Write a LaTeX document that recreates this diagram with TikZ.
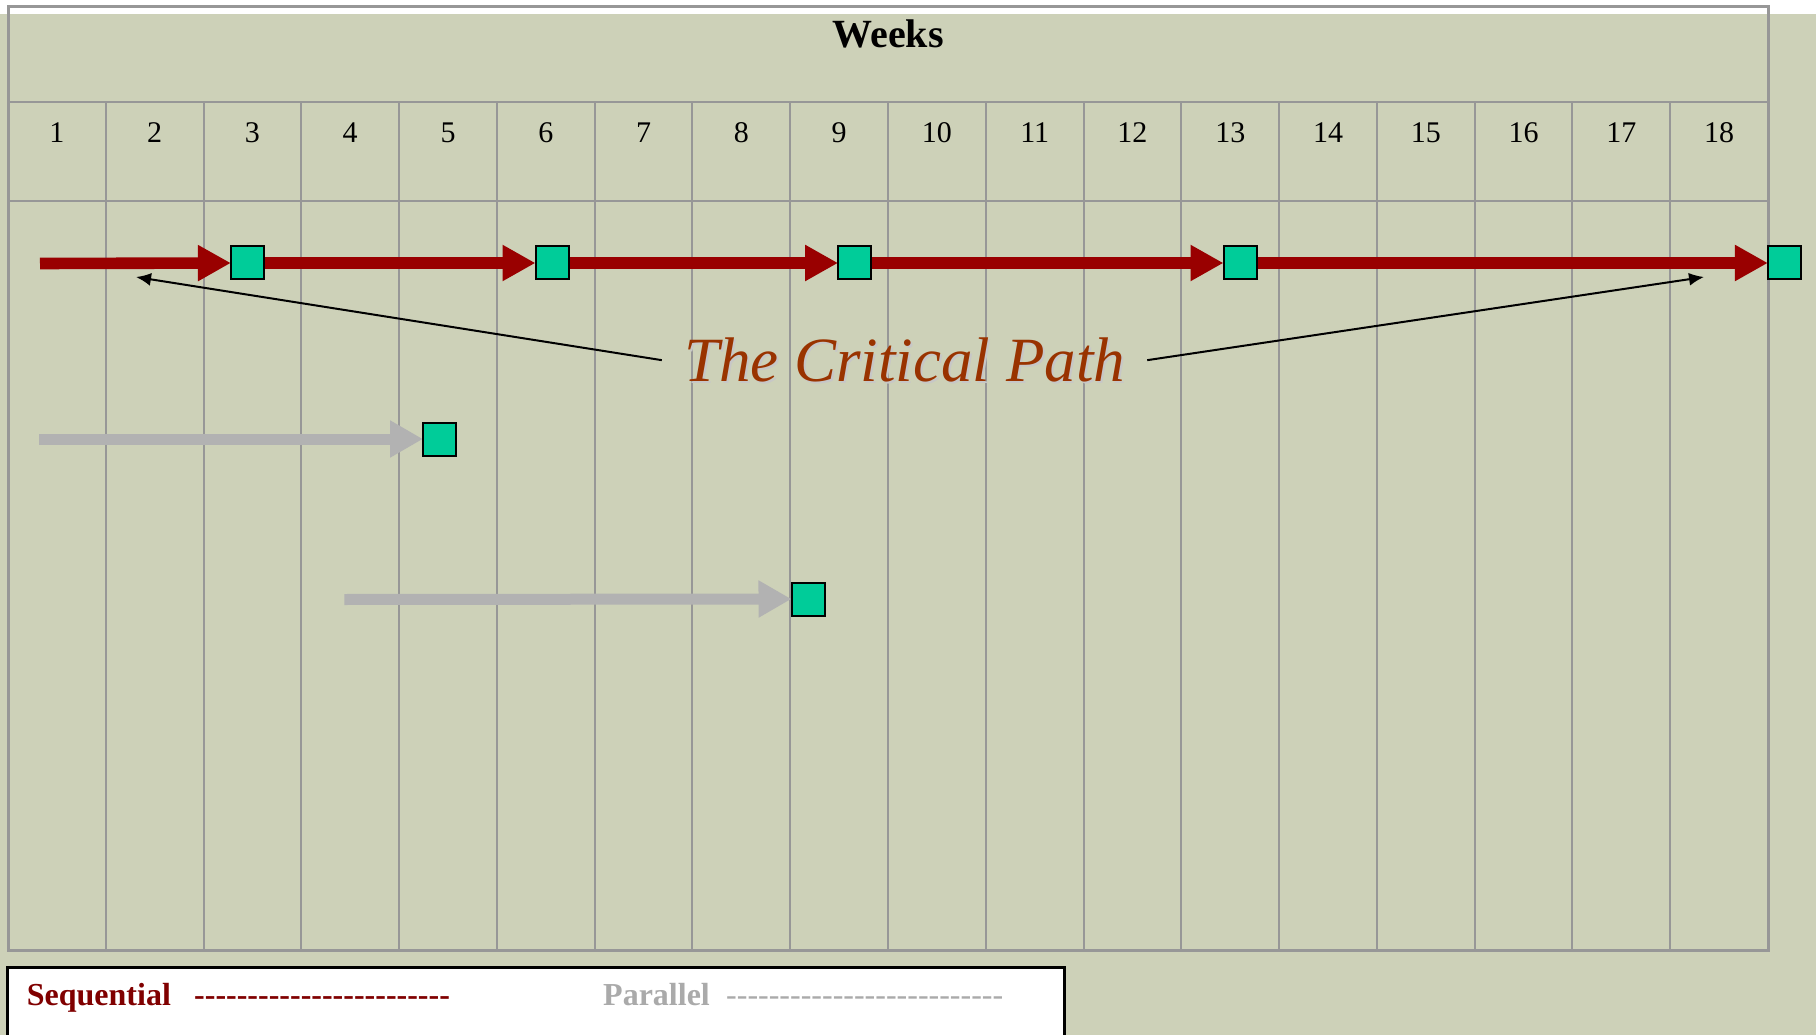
\documentclass[tikz,border=0pt]{standalone}
\usepackage{fontspec}
\setmainfont{Liberation Serif}
\usetikzlibrary{arrows.meta}
\definecolor{bgsage}{HTML}{CDD1B8}
\definecolor{gridgray}{HTML}{979797}
\definecolor{critred}{HTML}{990000}
\definecolor{milegreen}{HTML}{00CC99}
\definecolor{pargray}{HTML}{B2B2B2}
\definecolor{cpbrown}{HTML}{993300}
\definecolor{legred}{HTML}{800000}
\definecolor{leggray}{HTML}{AAAAAA}
\tikzset{
  gridline/.style={draw=gridgray, line width=2pt},
  frameline/.style={draw=gridgray, line width=3pt},
  critarrow/.style={draw=critred, line width=11.6pt, -{Triangle[length=33pt,width=34pt]}},
  pararrow/.style={draw=pargray, line width=11pt, -{Triangle[length=33pt,width=35pt]}},
  milestone/.style={draw=black, fill=milegreen, line width=2pt, minimum size=31pt, inner sep=0pt, rectangle},
  weeknum/.style={font=\fontsize{30}{36}\selectfont, anchor=base},
  callout/.style={draw=black, line width=2pt, -{Latex[length=15pt,width=13pt]}},
}
\newcommand{\dashrun}[1]{\foreach \i in {1,...,#1}{-{}}}
\begin{document}
\begin{tikzpicture}[x=1pt,y=-1pt]
\clip (0,0) rectangle (1816,1035);
\fill[bgsage] (0,0) rectangle (1816,1035);
\fill[white] (0,0) rectangle (1816,14);
% grid
\draw[gridline] (8,102) -- (1768,102);
\draw[gridline] (8,201.5) -- (1768,201.5);
\foreach \k in {1,...,17} {
  \draw[gridline] ({8+\k*97.78},102) -- ({8+\k*97.78},950);
}
\draw[frameline] (8,7) rectangle (1768,950);
% title and week numbers
\node[font=\bfseries\fontsize{40}{48}\selectfont, anchor=base] (weeks) at (888,47.7) {Weeks};
\foreach \k in {1,...,18} {
  \node[weeknum] (wk\k) at ({8+(\k-0.5)*97.78},142.7) {\k};
}
% milestones
\node[milestone] (m1) at (247.4,263) {};
\node[milestone] (m2) at (552,263) {};
\node[milestone] (m3) at (854.6,263) {};
\node[milestone] (m4) at (1240,263) {};
\node[milestone] (m5) at (1784.4,263) {};
\node[milestone] (g1) at (439.5,439) {};
\node[milestone] (g2) at (808,599) {};
\coordinate (cstart) at (40,263.5);
\coordinate (p1start) at (39,439);
\coordinate (p2start) at (344.4,599.5);
% critical path arrows
\draw[critarrow] (cstart) -- (m1.west);
\draw[critarrow] (m1.east) -- (m2.west);
\draw[critarrow] (m2.east) -- (m3.west);
\draw[critarrow] (m3.east) -- (m4.west);
\draw[critarrow] (m4.east) -- (m5.west);
% parallel arrows
\draw[pararrow] (p1start) -- (g1.west);
\draw[pararrow] (p2start) -- (g2.west);
% redraw milestone boxes on top
\foreach \m in {m1,m2,m3,m4,m5,g1,g2} {
  \draw[black, line width=2pt, fill=milegreen] (\m.south west) rectangle (\m.north east);
}
% critical path label
\node[font=\itshape\fontsize{63}{72}\selectfont, text=black!22, anchor=base, inner sep=0pt] (cpshadow) at (906.5,383.7) {The Critical Path};
\node[font=\itshape\fontsize{63}{72}\selectfont, text=cpbrown, anchor=base, inner sep=22pt] (cp) at (904.5,381.7) {The Critical Path};
\coordinate (tipL) at (136,277);
\coordinate (tipR) at (1704,277);
\draw[callout] (cp.west) -- (tipL);
\draw[callout] (cp.east) -- (tipR);
% legend
\draw[black, line width=3pt, fill=white] (7,967) rectangle (1064,1060);
\node[font=\bfseries\fontsize{32}{38}\selectfont, text=legred, anchor=base west, inner sep=0pt] (seq) at (26.7,1005.7) {Sequential};
\node[font=\bfseries\fontsize{32}{38}\selectfont, text=legred, anchor=base west, inner sep=0pt] (seqdash) at (194,1005.7) {\dashrun{24}};
\node[font=\bfseries\fontsize{32}{38}\selectfont, text=leggray, anchor=base west, inner sep=0pt] (par) at (603,1005.7) {Parallel};
\node[font=\fontsize{32}{38}\selectfont, text=leggray, anchor=base west, inner sep=0pt] (pardash) at (726,1005.7) {\dashrun{26}};
\end{tikzpicture}
\end{document}
